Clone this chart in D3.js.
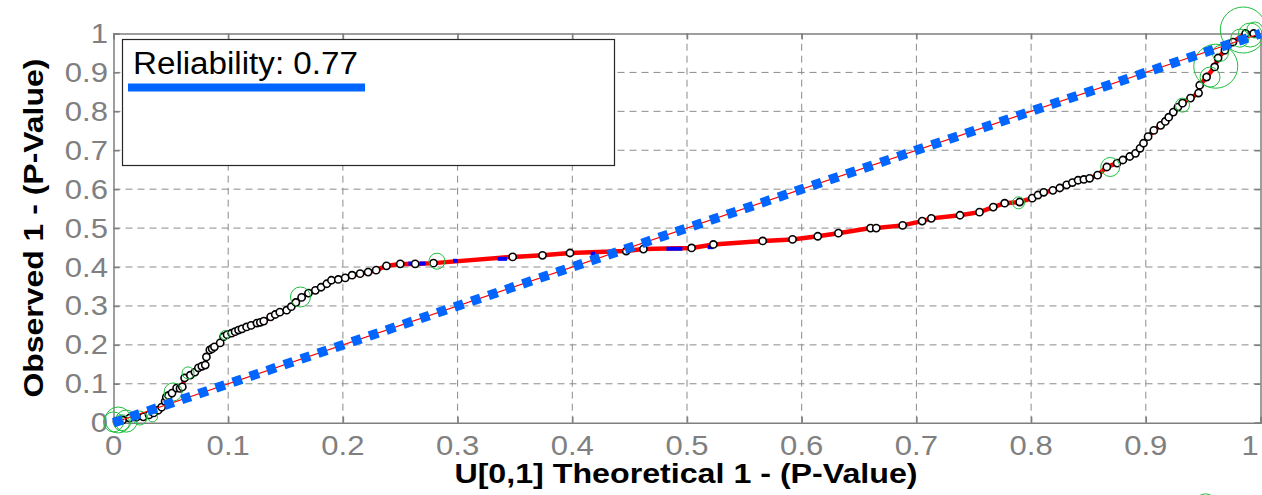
<!DOCTYPE html>
<html>
<head>
<meta charset="utf-8">
<script src="https://cdn.jsdelivr.net/npm/d3@7"></script>
<style>
  body { margin: 0; background: #fff; }
  svg { display: block; font-family: "Liberation Sans", Arial, sans-serif; }
</style>
</head>
<body>
<svg width="1262" height="495"></svg>
<script>
// tick values and labels (both axes)
const tickValues = [0, 0.1, 0.2, 0.3, 0.4, 0.5, 0.6, 0.7, 0.8, 0.9, 1];
const tickLabels = ["0", "0.1", "0.2", "0.3", "0.4", "0.5", "0.6", "0.7", "0.8", "0.9", "1"];

// observed vs theoretical 1 - p (black circles, red line)
const theoX = [0.003, 0.008, 0.014, 0.02, 0.026, 0.031, 0.035, 0.039, 0.042, 0.045, 0.046, 0.048, 0.051, 0.055, 0.058, 0.06,
  0.062, 0.067, 0.071, 0.074, 0.077, 0.08, 0.081, 0.084, 0.086, 0.088, 0.093, 0.096, 0.099, 0.103, 0.106, 0.109, 0.112,
  0.116, 0.12, 0.125, 0.128, 0.131, 0.137, 0.141, 0.145, 0.151, 0.155, 0.159, 0.164, 0.17, 0.176, 0.181, 0.186, 0.19, 0.196, 0.202,
  0.208, 0.215, 0.222, 0.229, 0.238, 0.25, 0.263, 0.279, 0.348, 0.374, 0.398, 0.447, 0.462, 0.504, 0.523, 0.566, 0.592,
  0.614, 0.632, 0.66, 0.665, 0.688, 0.705, 0.713, 0.738, 0.755, 0.767, 0.777, 0.79, 0.801, 0.806, 0.811, 0.819,
  0.825, 0.831, 0.836, 0.841, 0.846, 0.851, 0.858, 0.866, 0.875, 0.88, 0.886, 0.891, 0.895, 0.898, 0.902, 0.907, 0.913, 0.917, 0.92, 0.924, 0.928,
  0.932, 0.939, 0.946, 0.947, 0.953, 0.96, 0.963, 0.969, 0.976, 0.987, 0.994];
const obsY = [0.003, 0.007, 0.012, 0.014, 0.015, 0.02, 0.025, 0.032, 0.04, 0.055, 0.066, 0.07, 0.076, 0.089, 0.088, 0.092,
  0.115, 0.122, 0.13, 0.141, 0.145, 0.148, 0.169, 0.187, 0.19, 0.195, 0.205, 0.221, 0.226, 0.23, 0.234, 0.238, 0.241,
  0.246, 0.25, 0.256, 0.258, 0.261, 0.272, 0.278, 0.284, 0.289, 0.298, 0.309, 0.322, 0.333, 0.34, 0.348, 0.357, 0.366, 0.368, 0.372,
  0.379, 0.383, 0.387, 0.392, 0.403, 0.408, 0.408, 0.41, 0.426, 0.43, 0.436, 0.441, 0.446, 0.449, 0.458, 0.467, 0.471,
  0.479, 0.487, 0.5, 0.5, 0.507, 0.518, 0.525, 0.533, 0.541, 0.554, 0.564, 0.567, 0.577, 0.585, 0.592, 0.597,
  0.603, 0.611, 0.617, 0.623, 0.625, 0.628, 0.636, 0.657, 0.667, 0.675, 0.684, 0.692, 0.705, 0.718, 0.735, 0.751, 0.764, 0.774, 0.785, 0.798, 0.811,
  0.821, 0.834, 0.847, 0.867, 0.888, 0.914, 0.937, 0.957, 0.978, 1.0, 1.0];

// short blue pieces on the red line
const blueFrom = [0.257, 0.267, 0.296, 0.335, 0.416, 0.482, 0.518];
const blueTo = [0.26, 0.272, 0.3, 0.343, 0.42, 0.496, 0.523];
const blueLevel = [0.409, 0.409, 0.416, 0.421, 0.434, 0.447, 0.451];

// influential points (green circles), influence 0..1
const inflX = [0.004, 0.0, 0.007, 0.011, 0.023, 0.034, 0.052, 0.065, 0.097, 0.163, 0.282, 0.789, 0.869, 0.932,
  0.956, 0.961, 0.965, 0.985, 0.991, 0.995, 0.982, 0.952];
const inflY = [0.007, 0.002, 0.0, 0.004, 0.012, 0.015, 0.079, 0.128, 0.225, 0.323, 0.415, 0.565, 0.657, 0.816,
  0.888, 0.916, 0.949, 1.009, 0.996, 1.009, 0.988, -0.211];
const inflW = [0.52, 0.4, 0.32, 0.44, 0.28, 0.2, 0.36, 0.24, 0.18, 0.4, 0.32, 0.24, 0.38, 0.28,
  0.4, 0.88, 0.32, 0.92, 0.48, 0.32, 0.36, 0.44];

const legendText = "Reliability: 0.77";
const xTitle = "U[0,1] Theoretical 1 - (P-Value)";
const yTitle = "Observed 1 - (P-Value)";

var svg = d3.select("svg");
var x = d3.scaleLinear().domain([0, 1]).range([113.5, 1260.5]);
var y = d3.scaleLinear().domain([0, 1]).range([422.7, 33.5]);
var rScale = d3.scaleLinear().domain([0, 1]).range([0, 25]);

// grid
var grid = svg.append("g").attr("stroke", "#8c8c8c").attr("stroke-width", 1).attr("stroke-dasharray", "7,5");
grid.selectAll(".vg").data(tickValues.slice(1, -1)).enter().append("line")
  .attr("x1", (d) => x(d)).attr("x2", (d) => x(d)).attr("y1", y(0)).attr("y2", y(1));
grid.selectAll(".hg").data(tickValues.slice(1, -1)).enter().append("line")
  .attr("y1", (d) => y(d)).attr("y2", (d) => y(d)).attr("x1", x(0)).attr("x2", x(1));

// axes (box with inward ticks)
svg.append("g").attr("transform", `translate(0,${y(0)})`)
  .call(d3.axisTop(x).tickValues(tickValues).tickSize(6).tickFormat(""));
svg.append("g").attr("transform", `translate(0,${y(1)})`)
  .call(d3.axisBottom(x).tickValues(tickValues).tickSize(6).tickFormat(""));
svg.append("g").attr("transform", `translate(${x(0)},0)`)
  .call(d3.axisRight(y).tickValues(tickValues).tickSize(6).tickFormat(""));
svg.append("g").attr("transform", `translate(${x(1)},0)`)
  .call(d3.axisLeft(y).tickValues(tickValues).tickSize(6).tickFormat(""));
svg.selectAll(".domain, .tick line").attr("stroke", "#7f7f7f").attr("stroke-width", 1.5);

// tick labels (last one nudged in so it stays on the page)
svg.append("g").selectAll("text").data(tickValues).enter().append("text")
  .attr("transform", (d) => `translate(${Math.min(x(d), 1250)},455) scale(1.15,1)`)
  .attr("text-anchor", "middle").attr("font-size", 27).attr("fill", "#808080")
  .text((d, i) => tickLabels[i]);
svg.append("g").selectAll("text").data(tickValues).enter().append("text")
  .attr("transform", (d) => `translate(108,${y(d) + 9.5}) scale(1.15,1)`)
  .attr("text-anchor", "end").attr("font-size", 27).attr("fill", "#808080")
  .text((d, i) => tickLabels[i]);

// axis titles
svg.append("text")
  .attr("transform", "translate(686,483) scale(1.15,1)")
  .attr("text-anchor", "middle").attr("font-size", 28).attr("font-weight", "bold")
  .text(xTitle);
svg.append("text")
  .attr("transform", `translate(43,${(y(0) + y(1)) / 2}) rotate(-90) scale(1.14,1)`)
  .attr("text-anchor", "middle").attr("font-size", 28).attr("font-weight", "bold")
  .text(yTitle);

// red line along the data
var pts = theoX.map((d, i) => [d, obsY[i]]);
svg.append("path").datum(pts)
  .attr("fill", "none").attr("stroke", "#ff0000").attr("stroke-width", 4.5)
  .attr("d", d3.line().x((d) => x(d[0])).y((d) => y(d[1])));

svg.append("g").selectAll("line").data(blueFrom).enter().append("line")
  .attr("x1", (d) => x(d)).attr("x2", (d, i) => x(blueTo[i]))
  .attr("y1", (d, i) => y(blueLevel[i])).attr("y2", (d, i) => y(blueLevel[i]))
  .attr("stroke", "#0000ff").attr("stroke-width", 4);

// black circles
svg.append("g").selectAll("circle").data(pts).enter().append("circle")
  .attr("cx", (d) => x(d[0])).attr("cy", (d) => y(d[1])).attr("r", 3.6)
  .attr("fill", "#fff").attr("stroke", "#000").attr("stroke-width", 1.6);

// green influence circles
svg.append("g").selectAll("circle").data(inflX).enter().append("circle")
  .attr("cx", (d) => x(d)).attr("cy", (d, i) => y(inflY[i])).attr("r", (d, i) => rScale(inflW[i]))
  .attr("fill", "none").attr("stroke", "#1fbf3f").attr("stroke-width", 1);

// reference diagonal
svg.append("line")
  .attr("x1", x(0)).attr("y1", y(0)).attr("x2", x(1)).attr("y2", y(1))
  .attr("stroke", "#ff0000").attr("stroke-width", 1.2);
svg.append("line")
  .attr("x1", x(0)).attr("y1", y(0)).attr("x2", x(1)).attr("y2", y(1))
  .attr("stroke", "#0066ff").attr("stroke-width", 9.5).attr("stroke-dasharray", "9.5,8.5");

// legend
var legend = svg.append("g");
legend.append("rect").attr("x", 122.5).attr("y", 39.5).attr("width", 492).attr("height", 126)
  .attr("fill", "#fff").attr("stroke", "#262626").attr("stroke-width", 1.2);
legend.append("text").attr("transform", "translate(133,74) scale(1.07,1)")
  .attr("font-size", 31).attr("fill", "#000").text(legendText);
legend.append("line").attr("x1", 128).attr("x2", 365).attr("y1", 87.5).attr("y2", 87.5)
  .attr("stroke", "#0066ff").attr("stroke-width", 8);
</script>
</body>
</html>
